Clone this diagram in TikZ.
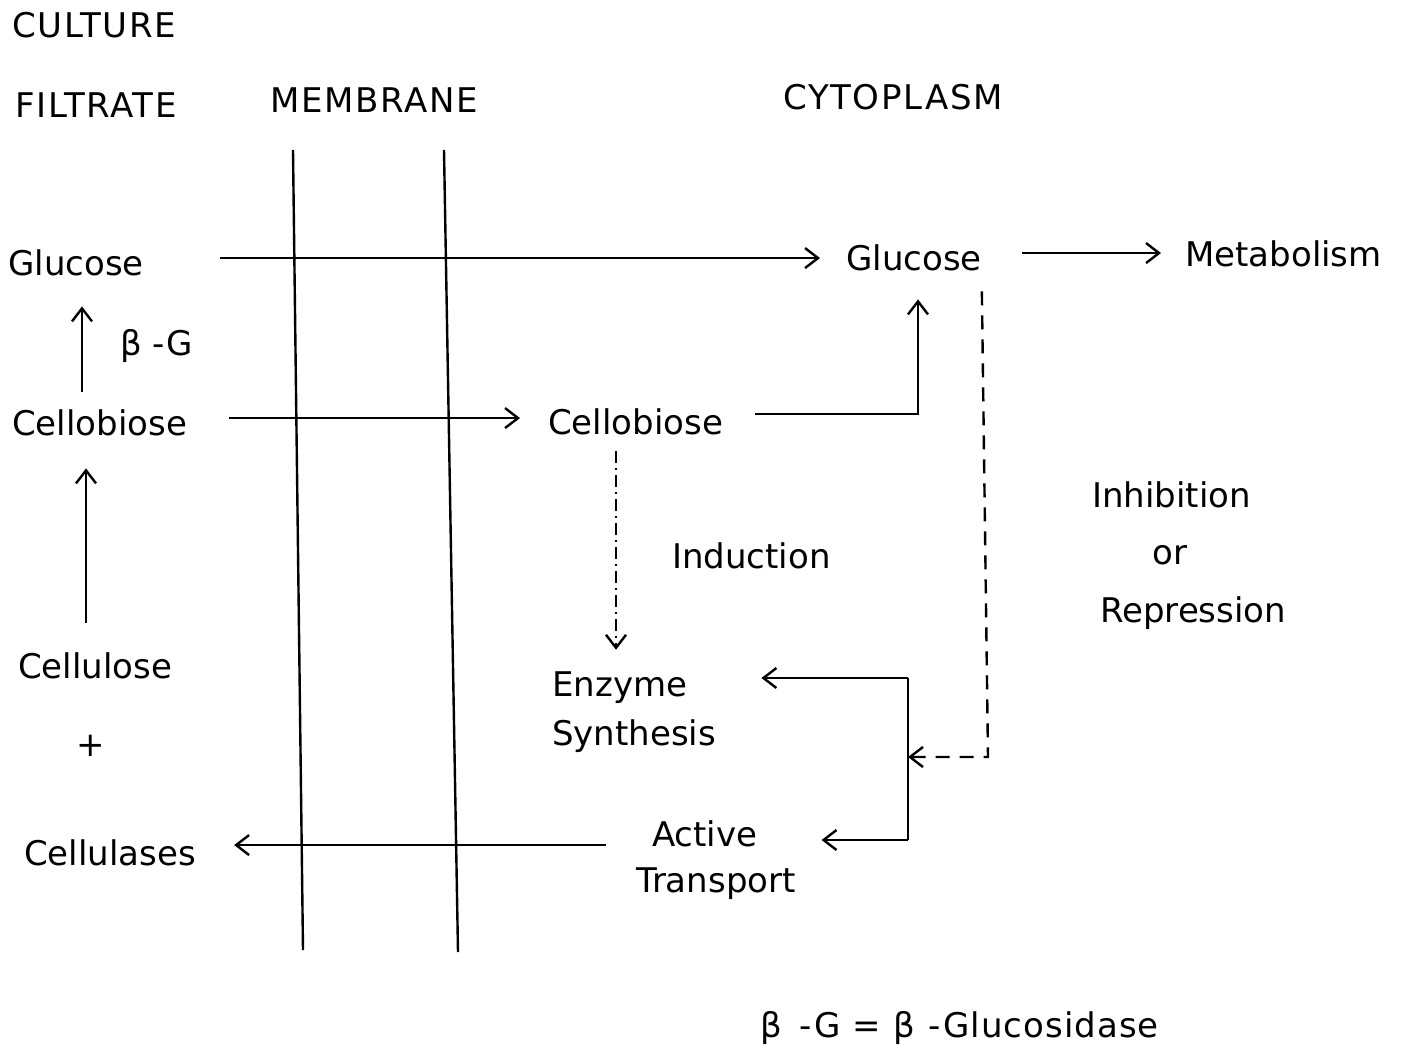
\documentclass[tikz,border=0pt]{standalone}
\usepackage{fontspec}
\setmainfont{DejaVu Sans}
\newfontfamily\capsfont[LetterSpace=5]{DejaVu Sans}
\newfontfamily\keyfont[LetterSpace=3]{DejaVu Sans}
\usetikzlibrary{arrows.meta,calc}
\begin{document}
\begin{tikzpicture}[x=1pt,y=-1pt,
  lbl/.style={anchor=mid west,inner sep=0pt,font=\fontsize{34}{40}\selectfont},
  caplbl/.style={anchor=mid west,inner sep=0pt,font=\capsfont\fontsize{34}{40}\selectfont},
  keylbl/.style={anchor=mid west,inner sep=0pt,font=\keyfont\fontsize{34}{40}\selectfont},
  wire/.style={line width=2.4pt},
  arr/.style={line width=2.4pt,-{Straight Barb[length=13pt,width=20pt,line width=2.4pt]}},
  dsh/.style={line width=2.4pt,dash pattern=on 14pt off 10pt},
  dashdot/.style={line width=2.4pt,dash pattern=on 12pt off 5pt on 2pt off 5pt}]
\useasboundingbox (0,0) rectangle (1401,1055);
% headings
\node[caplbl] (hcult) at (12,35) {CULTURE};
\node[caplbl] (hfilt) at (15,115) {FILTRATE};
\node[caplbl] (hmem) at (270,110) {MEMBRANE};
\node[caplbl] (hcyt) at (783,107) {CYTOPLASM};
% membrane
\coordinate (m1t) at (293,150); \coordinate (m1b) at (303,950);
\coordinate (m2t) at (444,150); \coordinate (m2b) at (458,952);
\draw[wire] (m1t) -- (m1b);
\draw[wire] (m2t) -- (m2b);
% texts
\node[lbl] (glc1) at (8,273) {Glucose};
\node[lbl] (glc2) at (846,268) {Glucose};
\node[lbl] (meta) at (1185,264) {Metabolism};
\node[lbl] (bg) at (120,353) {β -G};
\node[lbl] (cb1) at (12,433) {Cellobiose};
\node[lbl] (cb2) at (548,432) {Cellobiose};
\node[lbl] (cel) at (18,676) {Cellulose};
\node[lbl] (plus) at (76,754) {+};
\node[lbl] (cls) at (24,863) {Cellulases};
\node[lbl] (ind) at (672,566) {Induction};
\node[lbl] (inh) at (1092,505) {Inhibition};
\node[lbl] (orr) at (1152,562) {or};
\node[lbl] (rep) at (1100,620) {Repression};
\node[lbl] (enz) at (552,694) {Enzyme};
\node[lbl] (syn) at (552,743) {Synthesis};
\node[lbl] (act) at (652,844) {Active};
\node[lbl] (tra) at (636,890) {Transport};
\node[keylbl] (key) at (760,1035) {β\hspace{18pt}-G\hspace{12pt}=\hspace{12pt}β\hspace{14pt}-Glucosidase};
% helper coordinates
\coordinate (a1s) at ($(glc1.east)+(76,-5)$);
\coordinate (a1e) at ($(glc2.west)+(-26,0)$);
\coordinate (a2s) at ($(glc2.east)+(40,-5)$);
\coordinate (a2e) at ($(meta.west)+(-24,0)$);
\coordinate (a3s) at ($(cb1.north west)+(70,-18)$);
\coordinate (a3e) at ($(glc1.south)+(0,30)$);
\coordinate (a4s) at ($(cel.north west)+(68,-30)$);
\coordinate (a4e) at ($(cb1.south)+(0,32)$);
\coordinate (a5s) at ($(cb1.east)+(42,-5)$);
\coordinate (a5e) at ($(cb2.west)+(-28,0)$);
\coordinate (cbs) at ($(cb2.east)+(32,-8)$);
\coordinate (cbg) at (918,0);
\coordinate (cbe) at ($(glc2.south)+(0,28)$);
\coordinate (inds) at ($(cb2.south west)+(68,16)$);
\coordinate (inde) at ($(enz.north)+(0,-22)$);
\coordinate (jt) at (908,678);
\coordinate (jb) at (908,840);
\coordinate (enze) at ($(enz.east)+(74,0)$);
\coordinate (acte) at ($(act.east)+(64,0)$);
\coordinate (ds) at ($(glc2.south east)+(0,20)$);
\coordinate (dc) at (988,757);
\coordinate (ats) at ($(act.west)+(-46,11)$);
\coordinate (clse) at ($(cls.east)+(38,0)$);
% connectors
\draw[arr] (a1s) -- (a1s -| a1e);
\draw[arr] (a2s) -- (a2s -| a2e);
\draw[arr] (a3s) -- (a3s |- a3e);
\draw[arr] (a4s) -- (a4s |- a4e);
\draw[arr] (a5s) -- (a5s -| a5e);
\draw[arr] (cbs) -- (cbs -| cbg) -- (cbg |- cbe);
\draw[arr,dashdot] (inds) -- (inds |- inde);
\draw[arr] (jt) -- (jt -| enze);
\draw[wire] (jt) -- (jb);
\draw[arr] (jb) -- (jb -| acte);
\draw[arr,dsh] (ds) -- (dc) -- (dc -| jt);
\draw[arr] (ats) -- (ats -| clse);
\end{tikzpicture}
\end{document}
